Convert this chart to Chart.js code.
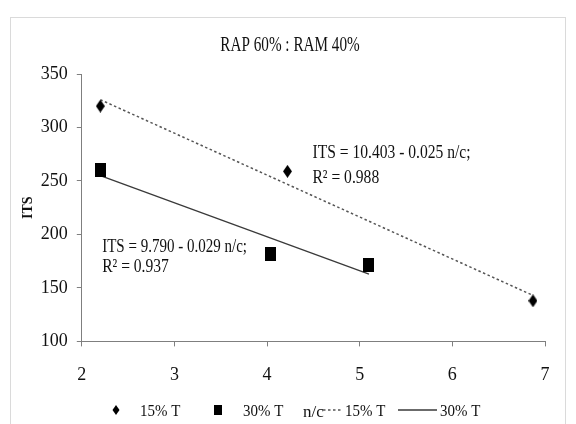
<!DOCTYPE html>
<html lang="en">
<head>
    <meta charset="UTF-8">
    <title>RAP 60% : RAM 40%</title>
    <script src="https://cdn.jsdelivr.net/npm/chart.js"></script>
    <style>
        body {
            margin: 0;
            background: #fff;
        }

        .chart-box {
            width: 576px;
            height: 424px;
        }
    </style>
</head>
<body>
    <div class="chart-box">
        <canvas id="itsChart"></canvas>
    </div>

<script>
    // values
    const xTicks = [2, 3, 4, 5, 6, 7];
    const yTicks = [100, 150, 200, 250, 300, 350];

    const nc15 = [2.2, 4.22, 6.87];
    const its15 = [320, 259, 138];
    const nc30 = [2.2, 4.04, 5.1];
    const its30 = [260, 182, 171];

    // trend line ends
    const trendNc15 = [2.2, 6.87];
    const trendIts15 = [326, 143];
    const trendNc30 = [2.2, 5.1];
    const trendIts30 = [255, 163];

    const toPoints = (xs, ys) => xs.map((x, i) => ({ x: x, y: ys[i] }));

    // marker pictures, a bit taller than wide like the original
    function markerImg(shape, w, h) {
        const c = document.createElement('canvas');
        c.width = w;
        c.height = h;
        const g = c.getContext('2d');
        g.fillStyle = '#000';
        if (shape === 'diamond') {
            g.beginPath();
            g.moveTo(w / 2, 0);
            g.lineTo(w, h / 2);
            g.lineTo(w / 2, h);
            g.lineTo(0, h / 2);
            g.closePath();
            g.fill();
        } else {
            g.fillRect(0, 0, w, h);
        }
        return c;
    }

    const serif = "'Liberation Serif', 'Times New Roman', serif";

    function condensedText(ctx, text, x, y, size, sx, align) {
        ctx.save();
        ctx.font = size + 'px ' + serif;
        ctx.fillStyle = '#111';
        ctx.textBaseline = 'alphabetic';
        ctx.translate(x, y);
        ctx.scale(sx, 1);
        ctx.textAlign = align || 'left';
        ctx.fillText(text, 0, 0);
        ctx.restore();
    }

    const decorPlugin = {
        id: 'decor',
        beforeDraw(chart) {
            const ctx = chart.ctx;
            ctx.save();
            ctx.fillStyle = '#fff';
            ctx.fillRect(0, 0, chart.width, chart.height);
            ctx.strokeStyle = '#dadada';
            ctx.lineWidth = 1;
            ctx.strokeRect(10.5, 17.5, 555, 440);
            ctx.restore();
        },
        afterDraw(chart) {
            const ctx = chart.ctx;
            const xs = chart.scales.x;
            const ys = chart.scales.y;

            // title
            condensedText(ctx, 'RAP 60% : RAM 40%', 290, 51, 20, 0.76, 'center');

            // regression notes, anchored in data units
            condensedText(ctx, 'ITS = 10.403 - 0.025 n/c;', xs.getPixelForValue(4.49), ys.getPixelForValue(271), 19, 0.82);
            condensedText(ctx, 'R\u00B2 = 0.988', xs.getPixelForValue(4.49), ys.getPixelForValue(248), 19, 0.82);
            condensedText(ctx, 'ITS = 9.790 - 0.029 n/c;', xs.getPixelForValue(2.22), ys.getPixelForValue(184), 19, 0.79);
            condensedText(ctx, 'R\u00B2 = 0.937', xs.getPixelForValue(2.22), ys.getPixelForValue(165), 19, 0.82);

            // legend along the bottom
            const ds = chart.data.datasets;
            const ly = 410;
            ctx.save();
            ctx.fillStyle = '#000';
            ctx.beginPath();
            ctx.moveTo(116, ly - 5);
            ctx.lineTo(119.5, ly);
            ctx.lineTo(116, ly + 5);
            ctx.lineTo(112.5, ly);
            ctx.closePath();
            ctx.fill();
            ctx.fillRect(214, ly - 5, 8, 10);

            ctx.strokeStyle = ds[2].borderColor;
            ctx.lineWidth = ds[2].borderWidth;
            ctx.setLineDash(ds[2].borderDash);
            ctx.beginPath();
            ctx.moveTo(323, ly);
            ctx.lineTo(343, ly);
            ctx.stroke();

            ctx.strokeStyle = ds[3].borderColor;
            ctx.lineWidth = ds[3].borderWidth;
            ctx.setLineDash([]);
            ctx.beginPath();
            ctx.moveTo(398, ly);
            ctx.lineTo(437, ly);
            ctx.stroke();
            ctx.restore();

            condensedText(ctx, ds[0].label, 140, 416, 17, 0.88);
            condensedText(ctx, ds[1].label, 243, 416, 17, 0.88);
            condensedText(ctx, ds[2].label, 345, 416, 17, 0.88);
            condensedText(ctx, ds[3].label, 440, 416, 17, 0.88);
        }
    };

    const axisColor = '#7f7f7f';

    new Chart(document.getElementById('itsChart'), {
        type: 'scatter',
        data: {
            datasets: [{
                label: '15% T',
                data: toPoints(nc15, its15),
                pointStyle: markerImg('diamond', 9, 13),
                backgroundColor: '#000',
                borderColor: '#000'
            }, {
                label: '30% T',
                data: toPoints(nc30, its30),
                pointStyle: markerImg('square', 11, 14),
                backgroundColor: '#000',
                borderColor: '#000'
            }, {
                label: '15% T',
                data: toPoints(trendNc15, trendIts15),
                showLine: true,
                pointRadius: 0,
                borderColor: '#555',
                borderWidth: 1.5,
                borderDash: [2.5, 2.5]
            }, {
                label: '30% T',
                data: toPoints(trendNc30, trendIts30),
                showLine: true,
                pointRadius: 0,
                borderColor: '#3a3a3a',
                borderWidth: 1.3
            }]
        },
        options: {
            responsive: true,
            maintainAspectRatio: false,
            animation: false,
            layout: {
                padding: { top: 74, right: 31, bottom: 0, left: 8 }
            },
            plugins: {
                legend: { display: false },
                title: { display: false },
                tooltip: { enabled: false }
            },
            scales: {
                x: {
                    type: 'linear',
                    min: xTicks[0],
                    max: xTicks[xTicks.length - 1],
                    afterBuildTicks: axis => { axis.ticks = xTicks.map(v => ({ value: v })); },
                    border: { display: true, color: axisColor, width: 1 },
                    grid: { drawOnChartArea: false, drawTicks: true, tickLength: 5, color: axisColor },
                    ticks: { color: '#111', padding: 18, font: { family: serif, size: 18 } },
                    title: {
                        display: true,
                        text: 'n/c',
                        color: '#111',
                        padding: { top: 0, bottom: 3 },
                        font: { family: serif, size: 17, lineHeight: 1 }
                    }
                },
                y: {
                    min: yTicks[0],
                    max: yTicks[yTicks.length - 1],
                    afterBuildTicks: axis => { axis.ticks = yTicks.map(v => ({ value: v })); },
                    border: { display: true, color: axisColor, width: 1 },
                    grid: { drawOnChartArea: false, drawTicks: true, tickLength: 5, color: axisColor },
                    ticks: { color: '#111', padding: 9, font: { family: serif, size: 18 } },
                    title: {
                        display: true,
                        text: 'ITS',
                        color: '#111',
                        padding: { top: 12, bottom: -5 },
                        font: { family: serif, size: 14, weight: 'bold' }
                    }
                }
            }
        },
        plugins: [decorPlugin]
    });
</script>
</body>
</html>
